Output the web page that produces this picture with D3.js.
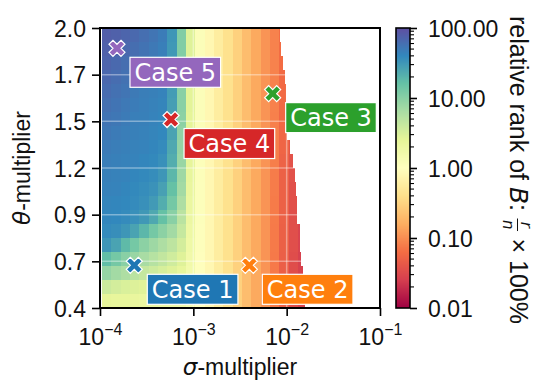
<!DOCTYPE html>
<html>
<head>
<meta charset="utf-8">
<script src="https://cdn.jsdelivr.net/npm/d3@7"></script>
<style>
  html, body { margin: 0; padding: 0; background: #fff; }
  svg { display: block; }
  text { white-space: pre; }
</style>
</head>
<body>
<svg id="chart" width="534" height="382"></svg>
<script>
// ---------------------------------------------------------------------------
// Data
// ---------------------------------------------------------------------------

// sigma-multiplier grid: log10 of the column edges
const sigmaEdgeExp = [-3.98, -3.88, -3.78, -3.68, -3.58, -3.48, -3.38, -3.28, -3.18, -3.08,
                      -2.98, -2.88, -2.78, -2.68, -2.58, -2.48, -2.38, -2.28, -2.18, -2.08,
                      -1.98, -1.88, -1.78];

// theta-multiplier grid: row edges, top to bottom
const thetaEdges = [2.00, 1.92, 1.84, 1.76, 1.68, 1.60, 1.52, 1.44, 1.36, 1.28, 1.20,
                    1.12, 1.04, 0.96, 0.88, 0.80, 0.72, 0.64, 0.56, 0.48, 0.40];

// largest sigma evaluated in each row (top to bottom); beyond it there is no result
const sigmaLimit = [0.0085, 0.0087, 0.0092, 0.0095, 0.0098, 0.0098, 0.0098, 0.0100, 0.0109, 0.0117,
                    0.0123, 0.0126, 0.0129, 0.0130, 0.0139, 0.0139, 0.0142, 0.0149, 0.0153, 0.0157];

// relative rank of B (r/n x 100 %), one row per theta band (top to bottom),
// one entry per sigma column
const rankRows = [
  [78, 75, 70, 66, 60, 54, 48, 32, 11, 2.8, 1.15, 0.80, 0.58, 0.42, 0.30, 0.21, 0.15, 0.11, 0.085, 0.062, 0.045, 0.030],
  [75, 71, 66, 61, 56, 51, 46, 31, 11, 2.8, 1.15, 0.80, 0.58, 0.42, 0.30, 0.21, 0.15, 0.11, 0.085, 0.062, 0.045, 0.030],
  [71, 66, 61, 56, 52, 48, 45, 30, 11, 2.7, 1.15, 0.80, 0.58, 0.42, 0.30, 0.21, 0.15, 0.11, 0.085, 0.062, 0.045, 0.030],
  [67, 62, 57, 53, 49, 46, 44, 30, 10.5, 2.7, 1.15, 0.80, 0.58, 0.42, 0.30, 0.21, 0.15, 0.11, 0.085, 0.060, 0.045, 0.030],
  [63, 58, 54, 50, 47, 45, 43, 29, 10, 2.6, 1.15, 0.80, 0.58, 0.42, 0.30, 0.21, 0.15, 0.11, 0.085, 0.060, 0.045, 0.030],
  [59, 55, 51, 48, 46, 44, 42, 28, 10, 2.6, 1.15, 0.80, 0.58, 0.42, 0.30, 0.21, 0.15, 0.11, 0.084, 0.058, 0.044, 0.030],
  [55, 52, 49, 46, 45, 43, 41, 27, 9.5, 2.5, 1.15, 0.80, 0.58, 0.42, 0.30, 0.21, 0.15, 0.11, 0.083, 0.057, 0.043, 0.030],
  [52, 49, 47, 45, 44, 42, 40, 26, 9, 2.5, 1.15, 0.80, 0.58, 0.42, 0.30, 0.21, 0.15, 0.11, 0.082, 0.056, 0.042, 0.030],
  [49, 47, 45, 44, 43, 41, 38, 24, 8.5, 2.4, 1.12, 0.80, 0.58, 0.42, 0.30, 0.21, 0.15, 0.11, 0.080, 0.054, 0.040, 0.030],
  [47, 45, 44, 43, 41, 39, 35, 22, 8, 2.4, 1.12, 0.80, 0.58, 0.42, 0.30, 0.21, 0.15, 0.11, 0.080, 0.052, 0.038, 0.030],
  [45, 44, 43, 41, 39, 37, 32, 19, 7.5, 2.3, 1.12, 0.80, 0.58, 0.42, 0.30, 0.21, 0.15, 0.11, 0.078, 0.050, 0.037, 0.029],
  [44, 43, 41, 39, 37, 34, 27, 16, 7, 2.2, 1.10, 0.80, 0.58, 0.42, 0.30, 0.21, 0.15, 0.11, 0.078, 0.050, 0.036, 0.029],
  [42, 41, 40, 38, 35, 30, 22, 13, 6, 2.1, 1.10, 0.80, 0.58, 0.42, 0.30, 0.21, 0.15, 0.11, 0.077, 0.050, 0.036, 0.028],
  [41, 40, 38, 35, 31, 24, 16, 10, 5, 2.0, 1.10, 0.80, 0.58, 0.42, 0.30, 0.21, 0.15, 0.11, 0.077, 0.050, 0.035, 0.028],
  [38, 36, 32, 26, 19, 13, 9.5, 7, 4.2, 1.9, 1.08, 0.80, 0.58, 0.42, 0.30, 0.21, 0.15, 0.11, 0.076, 0.049, 0.035, 0.028],
  [32, 26, 18, 13, 9.5, 7.5, 6, 4.8, 3.4, 1.8, 1.08, 0.80, 0.58, 0.42, 0.30, 0.21, 0.15, 0.11, 0.076, 0.049, 0.035, 0.028],
  [17, 13, 10, 8, 6.5, 5.3, 4.4, 3.6, 2.8, 1.7, 1.05, 0.80, 0.58, 0.42, 0.30, 0.21, 0.15, 0.11, 0.075, 0.048, 0.034, 0.027],
  [8.5, 7, 6, 5, 4.3, 3.7, 3.2, 2.8, 2.3, 1.6, 1.05, 0.80, 0.58, 0.42, 0.30, 0.21, 0.15, 0.11, 0.075, 0.048, 0.034, 0.027],
  [3.8, 3.4, 3.1, 2.9, 2.7, 2.5, 2.3, 2.1, 1.9, 1.5, 1.02, 0.80, 0.58, 0.42, 0.30, 0.21, 0.15, 0.11, 0.075, 0.048, 0.034, 0.027],
  [2.4, 2.3, 2.3, 2.2, 2.1, 2.0, 1.9, 1.8, 1.7, 1.4, 1.00, 0.80, 0.58, 0.42, 0.30, 0.21, 0.15, 0.11, 0.075, 0.048, 0.034, 0.027]
];

// highlighted parameter combinations
const caseNames = ["Case 1", "Case 2", "Case 3", "Case 4", "Case 5"];
const caseSigma = [2.33e-4, 3.98e-3, 7.08e-3, 5.77e-4, 1.52e-4];
const caseTheta = [0.644, 0.644, 1.625, 1.477, 1.884];
const caseColors = ["#1f77b4", "#ff7f0e", "#2ca02c", "#d62728", "#9467bd"];

// axis ticks
const sigmaTicks = [1e-4, 1e-3, 1e-2, 1e-1];
const thetaTicks = [0.4, 0.4 + 1.6 / 6, 0.4 + 3.2 / 6, 1.2, 0.4 + 6.4 / 6, 0.4 + 8.0 / 6, 2.0];
const rankTicks = [0.01, 0.1, 1, 10, 100];

// ---------------------------------------------------------------------------
// Scales
// ---------------------------------------------------------------------------
const svg = d3.select("#chart");
const x = d3.scaleLog().domain([1e-4, 1e-1]).range([100, 380]);
const y = d3.scaleLinear().domain([0.4, 2.0]).range([308, 28]);

const spectral = ["#9e0142", "#d53e4f", "#f46d43", "#fdae61", "#fee08b", "#ffffbf",
                  "#e6f598", "#abdda4", "#66c2a5", "#3288bd", "#5e4fa2"];
const norm = d3.scaleLog().domain([0.01, 100]).range([0, 1]).clamp(true);
const cmap = d3.scaleLinear().domain(spectral.map((_, i) => i / 10)).range(spectral)
  .interpolate(d3.interpolateRgb);
const color = v => cmap(norm(v));

const tickFont = "'Liberation Sans', Arial, Helvetica, sans-serif";
const mathFont = "'DejaVu Sans', sans-serif";

// ---------------------------------------------------------------------------
// Heatmap cells
// ---------------------------------------------------------------------------
const cells = [];
rankRows.forEach((row, r) => {
  row.forEach((v, c) => {
    const s0 = Math.pow(10, sigmaEdgeExp[c]);
    const s1 = Math.min(Math.pow(10, sigmaEdgeExp[c + 1]), sigmaLimit[r]);
    if (v == null || s0 >= sigmaLimit[r]) return;
    cells.push({ s0, s1, t0: thetaEdges[r + 1], t1: thetaEdges[r], v });
  });
});

svg.append("g")
  .attr("shape-rendering", "crispEdges")
  .selectAll("rect")
  .data(cells)
  .join("rect")
  .attr("x", d => x(d.s0))
  .attr("y", d => y(d.t1))
  .attr("width", d => x(d.s1) - x(d.s0))
  .attr("height", d => y(d.t0) - y(d.t1))
  .attr("fill", d => color(d.v));

// faint white grid
const grid = svg.append("g").attr("stroke", "#fff").attr("stroke-opacity", 0.38)
  .attr("stroke-width", 1.5);
grid.selectAll("line.h").data(thetaTicks).join("line").attr("class", "h")
  .attr("x1", 100).attr("x2", 380).attr("y1", d => y(d)).attr("y2", d => y(d));
grid.selectAll("line.v").data(sigmaTicks).join("line").attr("class", "v")
  .attr("x1", d => x(d)).attr("x2", d => x(d)).attr("y1", 28).attr("y2", 308);

// frame
svg.append("rect").attr("x", 100).attr("y", 28).attr("width", 280).attr("height", 280)
  .attr("fill", "none").attr("stroke", "#000").attr("stroke-width", 2);

// ---------------------------------------------------------------------------
// Axes
// ---------------------------------------------------------------------------
const yAxis = svg.append("g").attr("transform", "translate(100,0)")
  .call(d3.axisLeft(y).tickValues(thetaTicks).tickSize(8).tickPadding(6)
    .tickFormat(d3.format(".1f")));
yAxis.select(".domain").remove();
yAxis.selectAll(".tick line").attr("stroke", "#000").attr("stroke-width", 1.6);
yAxis.selectAll(".tick text").attr("font-family", tickFont).attr("font-size", 23)
  .attr("fill", "#111").attr("dy", "0.36em");

const xAxis = svg.append("g").attr("transform", "translate(0,308)")
  .call(d3.axisBottom(x).tickValues(sigmaTicks).tickSize(8).tickFormat(""));
xAxis.select(".domain").remove();
xAxis.selectAll(".tick line").attr("stroke", "#000").attr("stroke-width", 1.6);
xAxis.selectAll(".tick text").remove();
xAxis.selectAll(".tick").each(function (d) {
  const t = d3.select(this).append("text")
    .attr("y", 37).attr("text-anchor", "middle")
    .attr("font-family", tickFont).attr("font-size", 23).attr("fill", "#111");
  t.append("tspan").text("10");
  t.append("tspan").attr("font-size", 16).attr("dy", -10)
    .text("\u2212" + Math.abs(Math.round(Math.log10(d))));
});

// axis titles
const xTitle = svg.append("text").attr("x", 240).attr("y", 375).attr("text-anchor", "middle")
  .attr("font-family", tickFont).attr("font-size", 23).attr("fill", "#111");
xTitle.append("tspan").attr("font-family", mathFont).attr("font-style", "italic").text("\u03c3");
xTitle.append("tspan").text("-multiplier");

const yTitle = svg.append("text").attr("transform", "translate(30,168) rotate(-90)")
  .attr("text-anchor", "middle").attr("font-family", tickFont).attr("font-size", 23)
  .attr("fill", "#111");
yTitle.append("tspan").attr("font-family", mathFont).attr("font-style", "italic").text("\u03b8");
yTitle.append("tspan").text("-multiplier");

// ---------------------------------------------------------------------------
// Highlighted cases
// ---------------------------------------------------------------------------
// filled "X" marker outline (unit size)
const xMarker = [[-1, -3], [1, -3], [1, -1], [3, -1], [3, 1], [1, 1], [1, 3], [-1, 3],
                 [-1, 1], [-3, 1], [-3, -1], [-1, -1]];
const markerPath = s => {
  const k = s / 6, a = Math.PI / 4;
  return "M" + xMarker.map(([px, py]) => {
    const rx = (px * Math.cos(a) - py * Math.sin(a)) * k;
    const ry = (px * Math.sin(a) + py * Math.cos(a)) * k;
    return rx.toFixed(2) + "," + ry.toFixed(2);
  }).join("L") + "Z";
};

const caseData = caseNames.map((name, i) => ({
  name, sigma: caseSigma[i], theta: caseTheta[i], color: caseColors[i]
}));

const caseG = svg.append("g");
caseData.forEach(d => {
  const cx = x(d.sigma), cy = y(d.theta);
  caseG.append("path")
    .attr("d", markerPath(17))
    .attr("transform", `translate(${cx},${cy})`)
    .attr("fill", d.color).attr("stroke", "#fff").attr("stroke-width", 1.2);

  const g = caseG.append("g").attr("transform", `translate(${cx + 13},${cy + 9})`);
  const box = g.append("rect").attr("fill", d.color).attr("stroke", "#fff")
    .attr("stroke-width", 1.2);
  const txt = g.append("text").attr("font-family", mathFont).attr("font-size", 24)
    .attr("fill", "#fff").attr("text-anchor", "middle").text(d.name);
  const w = txt.node().getComputedTextLength() + 9;
  box.attr("width", w).attr("height", 30);
  txt.attr("x", w / 2).attr("y", 23.5);
});

// ---------------------------------------------------------------------------
// Colour bar
// ---------------------------------------------------------------------------
const cb = { x: 396, w: 14, top: 28, bottom: 308 };
const cbScale = d3.scaleLog().domain([0.01, 100]).range([cb.bottom, cb.top]);
const strips = d3.range(cb.top, cb.bottom, 1);
svg.append("g").attr("shape-rendering", "crispEdges")
  .selectAll("rect").data(strips).join("rect")
  .attr("x", cb.x).attr("y", d => d).attr("width", cb.w).attr("height", 1)
  .attr("fill", d => color(cbScale.invert(d + 0.5)));
svg.append("rect").attr("x", cb.x).attr("y", cb.top).attr("width", cb.w)
  .attr("height", cb.bottom - cb.top).attr("fill", "none").attr("stroke", "#000")
  .attr("stroke-width", 1.6);

const minorTicks = [];
[0.01, 0.1, 1, 10].forEach(b => { for (let m = 2; m <= 9; m++) minorTicks.push(b * m); });
svg.append("g").selectAll("line").data(minorTicks).join("line")
  .attr("x1", cb.x + cb.w).attr("x2", cb.x + cb.w + 4)
  .attr("y1", d => cbScale(d)).attr("y2", d => cbScale(d))
  .attr("stroke", "#000").attr("stroke-width", 1.1);

const cbAxis = svg.append("g").attr("transform", `translate(${cb.x + cb.w},0)`)
  .call(d3.axisRight(cbScale).tickValues(rankTicks).tickSize(7).tickPadding(11)
    .tickFormat(d3.format(".2f")));
cbAxis.select(".domain").remove();
cbAxis.selectAll(".tick line").attr("stroke", "#000").attr("stroke-width", 1.6);
cbAxis.selectAll(".tick text").attr("font-family", tickFont).attr("font-size", 23)
  .attr("fill", "#111").attr("dy", "0.36em");

// colour bar title: relative rank of B: r/n x 100%
const titleSize = 25;
const cbTitle = svg.append("g").attr("transform", "translate(510,0) rotate(90)");
const titleParts = [];
const addPart = (str, opts) => {
  const t = cbTitle.append("text").attr("font-family", opts.font || tickFont)
    .attr("font-size", titleSize).attr("fill", "#111").text(str);
  if (opts.italic) t.attr("font-style", "italic");
  titleParts.push({ node: t, w: t.node().getComputedTextLength() });
  return t;
};
addPart("relative rank of ", {});
addPart("B", { font: mathFont, italic: true });
addPart(": ", {});
// stacked fraction r / n
const num = cbTitle.append("text").attr("font-family", mathFont).attr("font-style", "italic")
  .attr("font-size", 15).attr("fill", "#111").attr("text-anchor", "middle").text("r");
const den = cbTitle.append("text").attr("font-family", mathFont).attr("font-style", "italic")
  .attr("font-size", 15).attr("fill", "#111").attr("text-anchor", "middle").text("n");
const bar = cbTitle.append("line").attr("stroke", "#111").attr("stroke-width", 1);
const fracW = Math.max(num.node().getComputedTextLength(), den.node().getComputedTextLength()) + 4;
titleParts.push({ frac: true, w: fracW });
addPart(" \u00d7 100%", {});

const totalW = d3.sum(titleParts, p => p.w);
let pos = 170 - totalW / 2;
titleParts.forEach(p => {
  if (p.frac) {
    const mid = pos + p.w / 2;
    num.attr("x", mid).attr("y", -11);
    den.attr("x", mid).attr("y", 7);
    bar.attr("x1", pos + 0.5).attr("x2", pos + p.w - 0.5).attr("y1", -7.5).attr("y2", -7.5);
  } else {
    p.node.attr("x", pos).attr("y", 0);
  }
  pos += p.w;
});
</script>
</body>
</html>
